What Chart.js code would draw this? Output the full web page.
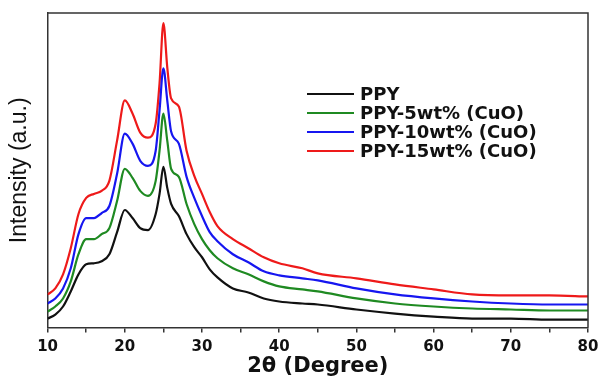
<!DOCTYPE html>
<html>
<head>
<meta charset="utf-8">
<script src="https://cdn.jsdelivr.net/npm/chart.js@4/dist/chart.umd.min.js"></script>
<style>
  html, body { margin: 0; padding: 0; background: #fff; }
  #wrap { width: 600px; height: 376px; }
</style>
</head>
<body>
<div id="wrap"><canvas id="xrd"></canvas></div>
<script>
// 2theta positions (degree)
const twoTheta = [10, 11, 12, 13, 14, 15, 16, 17, 18, 19, 20, 21, 22, 23, 24, 24.5, 25, 25.5, 26, 27, 28, 29, 30, 31, 32, 34, 36, 38, 40, 43, 45, 50, 55, 60, 65, 70, 75, 80];

// intensities (a.u., stacked as drawn)
const ppy   = [11, 15, 23, 38, 55, 65, 66, 68, 75, 97, 119, 111, 101, 99, 115, 135, 162, 141, 125, 113, 95, 82, 72, 60, 52, 41, 37, 31, 28, 26, 25, 20, 16, 13, 11, 11, 10, 10];
const ppy5  = [18, 23, 31, 48, 75, 90, 90, 95, 101, 128, 160, 151, 138, 133, 148, 178, 215, 188, 160, 152, 125, 105, 90, 79, 71, 61, 55, 48, 43, 40, 38, 31, 26, 23, 21, 20, 19, 19];
const ppy10 = [26, 31, 41, 61, 95, 111, 111, 116, 123, 155, 195, 185, 168, 163, 178, 218, 260, 228, 197, 185, 152, 131, 113, 97, 88, 75, 67, 58, 54, 51, 49, 41, 35, 31, 28, 26, 25, 25];
const ppy15 = [35, 41, 55, 81, 115, 131, 135, 138, 148, 188, 228, 215, 196, 191, 205, 245, 305, 261, 230, 222, 178, 153, 135, 117, 103, 90, 81, 72, 66, 61, 56, 51, 45, 40, 35, 34, 34, 33];

const seriesNames = ["PPY", "PPY-5wt% (CuO)", "PPY-10wt% (CuO)", "PPY-15wt% (CuO)"];
const seriesColors = ["#111111", "#1f8a22", "#1616f0", "#ee1a1a"];
const seriesValues = [ppy, ppy5, ppy10, ppy15];

const xTicks = { min: 10, max: 80, step: 5 };

function pts(vals) {
  return twoTheta.map((t, i) => ({ x: t, y: vals[i] }));
}

// box round the plot area
const frame = {
  id: "frame",
  afterDraw(chart) {
    const a = chart.chartArea, c = chart.ctx;
    c.save();
    c.strokeStyle = "#333";
    c.lineWidth = 1.5;
    c.beginPath();
    c.moveTo(a.left, a.top);
    c.lineTo(a.right, a.top);
    c.lineTo(a.right, a.bottom);
    c.stroke();
    c.restore();
  }
};

// legend inside the plot, like the original
const insideLegend = {
  id: "insideLegend",
  afterDraw(chart) {
    const c = chart.ctx;
    c.save();
    c.font = "bold 18px 'DejaVu Sans'";
    c.textBaseline = "middle";
    chart.data.datasets.forEach((ds, i) => {
      const y = 94 + i * 19;
      c.strokeStyle = ds.borderColor;
      c.lineWidth = 2;
      c.beginPath();
      c.moveTo(307, y);
      c.lineTo(354, y);
      c.stroke();
      c.fillStyle = "#111";
      c.fillText(ds.label, 360, y + 1);
    });
    c.restore();
  }
};

new Chart(document.getElementById("xrd"), {
  type: "line",
  data: {
    datasets: seriesValues.map((v, i) => ({
      label: seriesNames[i],
      data: pts(v),
      borderColor: seriesColors[i],
      borderWidth: 2.2,
      pointRadius: 0,
      cubicInterpolationMode: "monotone",
      fill: false
    }))
  },
  options: {
    responsive: true,
    maintainAspectRatio: false,
    animation: false,
    layout: { padding: { top: 13, right: 12, left: 3, bottom: 0 } },
    plugins: { legend: { display: false }, tooltip: { enabled: false } },
    scales: {
      x: {
        type: "linear",
        min: xTicks.min,
        max: xTicks.max,
        afterFit(scale) {
          // let the "80" label hang into the right margin
          scale.paddingRight = 11;
        },
        ticks: {
          stepSize: xTicks.step,
          autoSkip: false,
          maxRotation: 0,
          padding: 5,
          color: "#111",
          font: { family: "DejaVu Sans", weight: "bold", size: 15 },
          callback: v => (v % 10 === 0 ? v : "")
        },
        grid: { drawOnChartArea: false, tickLength: 5, color: "#333", lineWidth: 1.5 },
        border: { color: "#333", width: 1.5 },
        title: {
          display: true,
          text: "2θ (Degree)",
          color: "#111",
          font: { family: "DejaVu Sans", weight: "bold", size: 21, lineHeight: 0.59 },
          padding: { top: 0, bottom: 3 }
        }
      },
      y: {
        min: 2,
        max: 315,
        ticks: { display: false },
        grid: { display: false },
        border: { color: "#333", width: 1.5 },
        title: {
          display: true,
          text: "Intensity (a.u.)",
          color: "#111",
          font: { family: "Liberation Sans", size: 23 },
          padding: { top: 3, bottom: 6 }
        }
      }
    }
  },
  plugins: [frame, insideLegend]
});
</script>
</body>
</html>
